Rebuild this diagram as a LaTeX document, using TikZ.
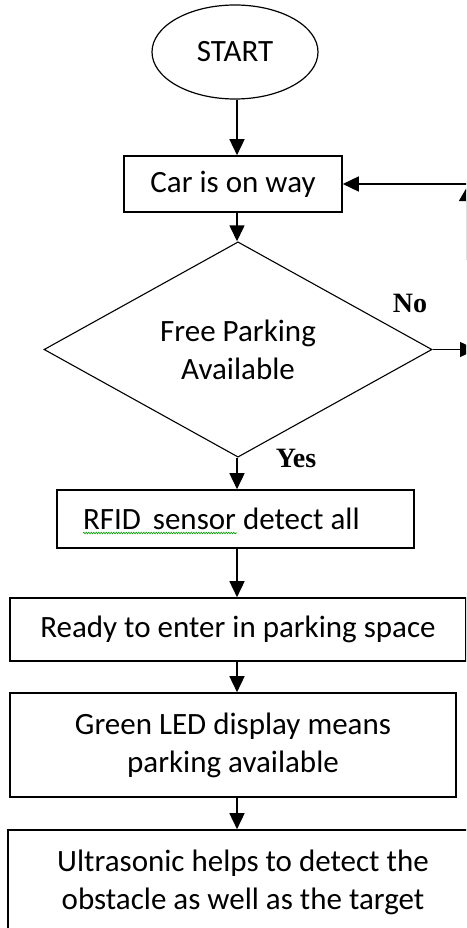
\documentclass[tikz,border=0pt]{standalone}
\usepackage{fontspec}
\setmainfont{Carlito}
\newfontfamily\answerfont{Liberation Serif}
\usetikzlibrary{shapes.geometric,arrows.meta,decorations.pathmorphing}

\begin{document}
\begin{tikzpicture}[
    x=1pt, y=-1pt,
    every node/.style={align=center, inner sep=0pt, font=\fontsize{31}{38}\selectfont},
    stepbox/.style={rectangle, draw, line width=1.6pt},
    arr/.style={-{Triangle[length=16pt,width=15pt]}, line width=1.5pt},
    answer/.style={font=\answerfont\bfseries\fontsize{28}{30}\selectfont}
]
\useasboundingbox (0,0) rectangle (466,928);
\clip (0,0) rectangle (466,928);
\coordinate (spine) at (237,0);
\node[ellipse, draw, line width=1.2pt, minimum width=166pt, minimum height=94pt] (start) at (235,52) {START};
\node[stepbox, minimum width=218pt, minimum height=56pt] (car) at (233,184) {Car is on way};
\node[diamond, draw, line width=1.1pt, minimum width=388pt, minimum height=175pt] (free) at (238,349.5) {Free Parking\\Available};
\node[stepbox, text width=305pt, inner xsep=26pt, minimum height=58pt, align=flush left] (rfid) at (235.5,519) {RFID\hspace{5pt} sensor detect all};
\node[stepbox, minimum width=456pt, minimum height=63pt] (ready) at (238,629.5) {Ready to enter in parking space};
\node[stepbox, minimum width=446pt, minimum height=104pt] (green) at (233,745) {Green LED display means\\parking available};
\node[stepbox, minimum width=470pt, minimum height=104pt] (ultra) at (243,882) {Ultrasonic helps to detect the\\obstacle as well as the target};
\node[answer] (no) at (410,303) {No};
\node[answer] (yes) at (296,458) {Yes};
\coordinate (noend) at (476,349.5);
\coordinate (backlow) at (467,260);
\coordinate (backtop) at (467,187);

\draw[arr] (start.south -| spine) -- (car.north -| spine);
\draw[arr] (car.south -| spine) -- (free.north -| spine);
\draw[arr] (free.south -| spine) -- (rfid.north -| spine);
\draw[arr] (rfid.south -| spine) -- (ready.north -| spine);
\draw[arr] (ready.south -| spine) -- (green.north -| spine);
\draw[arr] (green.south -| spine) -- (ultra.north -| spine);
\draw[arr] (free.east) -- (noend);
\draw[-{Triangle[length=14pt,width=16pt]}, line width=1.5pt] (backlow) -- (backtop);
\draw[arr] (backtop |- car.east) -- (car.east);
\draw[green!60!black, line width=0.6pt, decorate, decoration={snake, amplitude=0.8pt, segment length=2.5pt}] (83,533) -- (237,533);
\end{tikzpicture}
\end{document}
